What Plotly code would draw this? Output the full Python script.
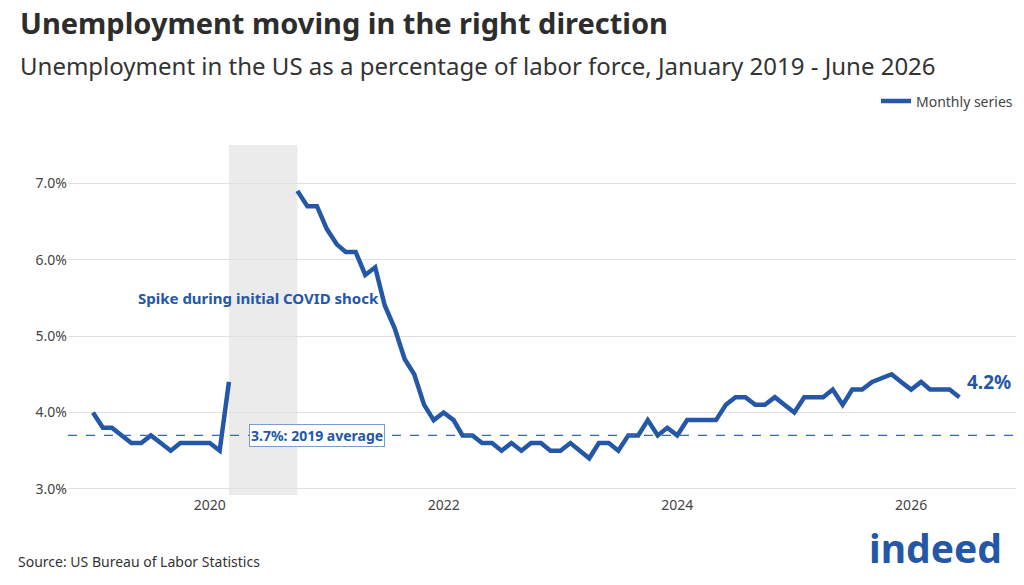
import pandas as pd
import plotly.graph_objects as go

months = pd.date_range("2019-01-01", "2026-06-01", freq="MS")
rate = [4.0, 3.8, 3.8, 3.7, 3.6, 3.6, 3.7, 3.6, 3.5, 3.6, 3.6, 3.6,
        3.6, 3.5, 4.4, None, None, None, None, None, None, 6.9, 6.7, 6.7,
        6.4, 6.2, 6.1, 6.1, 5.8, 5.9, 5.4, 5.1, 4.7, 4.5, 4.1, 3.9,
        4.0, 3.9, 3.7, 3.7, 3.6, 3.6, 3.5, 3.6, 3.5, 3.6, 3.6, 3.5,
        3.5, 3.6, 3.5, 3.4, 3.6, 3.6, 3.5, 3.7, 3.7, 3.9, 3.7, 3.8,
        3.7, 3.9, 3.9, 3.9, 3.9, 4.1, 4.2, 4.2, 4.1, 4.1, 4.2, 4.1,
        4.0, 4.2, 4.2, 4.2, 4.3, 4.1, 4.3, 4.3, 4.4, 4.45, 4.5, 4.4,
        4.3, 4.4, 4.3, 4.3, 4.3, 4.2]
avg_2019 = 3.7
yticks = [3.0, 4.0, 5.0, 6.0, 7.0]

blue = "#2557a7"
fig = go.Figure()
fig.add_trace(go.Scatter(x=months, y=rate, mode="lines", name="Monthly series",
                         line=dict(color=blue, width=4.5), connectgaps=False))

fig.add_vrect(x0="2020-03-01", x1="2020-10-01", fillcolor="#ebebeb", line_width=0, layer="below")
fig.add_hline(y=avg_2019, line=dict(color="#3366cc", width=1.3, dash="dash"))
fig.add_annotation(x="2020-12-01", y=avg_2019, text="<b>3.7%: 2019 average</b>", showarrow=False,
                   font=dict(color=blue, size=14), bgcolor="white", bordercolor="#7a9bd4",
                   borderwidth=1, borderpad=1)
fig.add_annotation(x="2020-06-01", y=5.5, text="<b>Spike during initial COVID shock</b>",
                   showarrow=False, font=dict(color=blue, size=15))
fig.add_annotation(x=months[-1], y=rate[-1], text="<b>4.2%</b>", showarrow=False,
                   xanchor="left", yanchor="bottom", xshift=6, font=dict(color=blue, size=19))

fig.update_layout(
    width=1024, height=585, plot_bgcolor="white", paper_bgcolor="white",
    font=dict(family="Noto Sans", color="#444444", size=14),
    margin=dict(l=60, r=14, t=137, b=98),
    legend=dict(orientation="h", x=1, xanchor="right", y=1.17, yanchor="top",
                font=dict(size=14, color="#444")),
    showlegend=True,
    xaxis=dict(range=["2018-10-15", "2026-12-01"], showgrid=False, zeroline=False,
               tickvals=["2020-01-01", "2022-01-01", "2024-01-01", "2026-01-01"],
               ticktext=["2020", "2022", "2024", "2026"], ticks="", showline=False),
    yaxis=dict(range=[2.92, 7.5], tickvals=yticks, ticktext=[f"{v:.1f}%" for v in yticks],
               gridcolor="#e0e0e0", zeroline=False, ticks=""),
)
fig.add_annotation(xref="paper", yref="paper", x=-0.053, y=1.351, xanchor="left", yanchor="middle",
                   text="<b>Unemployment moving in the right direction</b>", showarrow=False,
                   font=dict(size=29, color="#2d2d2d"))
fig.add_annotation(xref="paper", yref="paper", x=-0.053, y=1.228, xanchor="left", yanchor="middle",
                   text="Unemployment in the US as a percentage of labor force, January 2019 - June 2026",
                   showarrow=False, font=dict(size=24, color="#333"))
fig.add_annotation(xref="paper", yref="paper", x=-0.055, y=-0.19, xanchor="left", yanchor="middle",
                   text="Source: US Bureau of Labor Statistics", showarrow=False,
                   font=dict(size=14, color="#333"))
fig.add_annotation(xref="paper", yref="paper", x=0.985, y=-0.15, xanchor="right", yanchor="middle",
                   text="<b>indeed</b>", showarrow=False, font=dict(size=39, color="#2557a7"))
fig.write_html("out.html")
